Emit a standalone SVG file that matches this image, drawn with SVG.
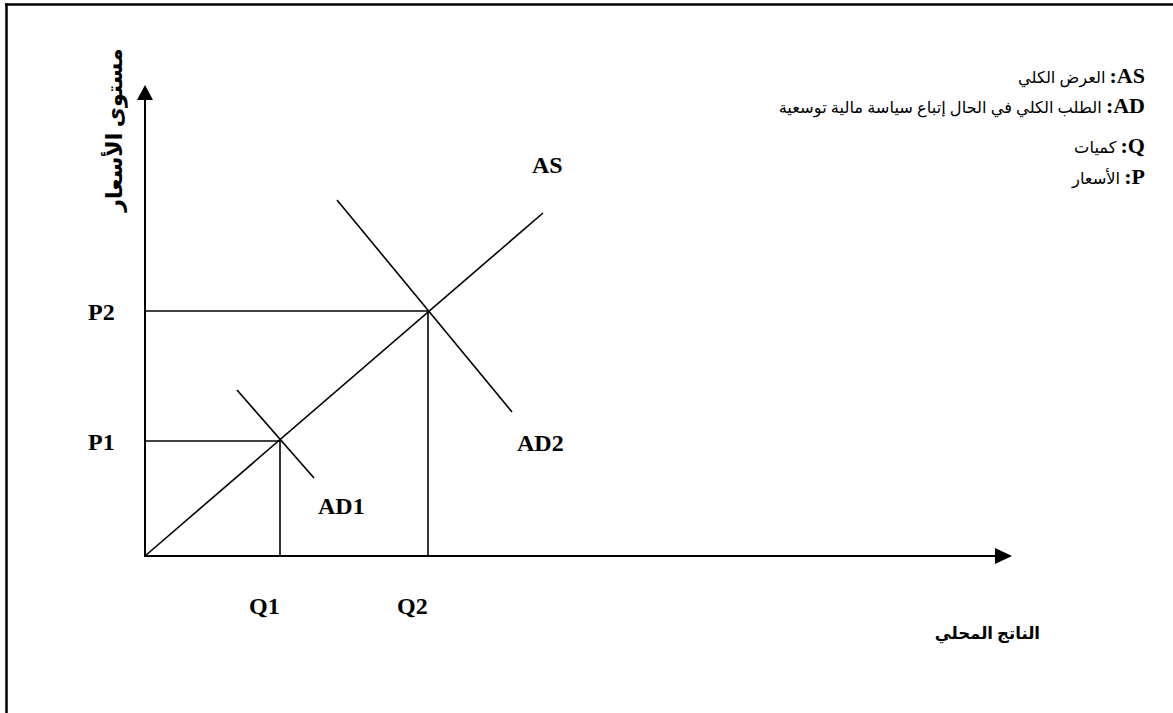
<svg xmlns="http://www.w3.org/2000/svg" width="1173" height="713" viewBox="0 0 1173 713">
<style>
.ln{stroke:#000;stroke-width:1.6;fill:none}
.ax{stroke:#000;stroke-width:2;fill:none}
.lb{font-family:"Liberation Serif","Times New Roman",serif;font-weight:bold;font-size:24px;fill:#000}
.lg{font-family:"Liberation Serif","Times New Roman",serif;font-weight:bold;font-size:22px;fill:#000}
.ar{font-family:"Liberation Serif","DejaVu Sans",serif;font-weight:normal;font-size:16.3px;fill:#000}
.arb{font-family:"Liberation Serif","DejaVu Sans",serif;font-weight:bold;fill:#000}
</style>
<rect width="1173" height="713" fill="#fff"/>
<g id="frame">
<line x1="5" y1="4.5" x2="1173" y2="4.5" stroke="#000" stroke-width="2.5"/>
<line x1="6.5" y1="3.5" x2="6.5" y2="713" stroke="#000" stroke-width="2.5"/>
</g>
<g id="connectors">
<line class="ax" x1="145" y1="557" x2="145" y2="98"/>
<polygon points="145,85 137,100 153,100" fill="#000"/>
<line class="ax" x1="144" y1="556" x2="998" y2="556"/>
<polygon points="1012,556 995,548 995,564" fill="#000"/>
<line class="ln" x1="145" y1="556" x2="543" y2="213"/>
<line class="ln" x1="237" y1="390" x2="314" y2="478"/>
<line class="ln" x1="337" y1="200" x2="512" y2="412"/>
<line class="ln" x1="145" y1="441" x2="280" y2="441"/>
<line class="ln" x1="280" y1="441" x2="280" y2="556"/>
<line class="ln" x1="145" y1="311" x2="428" y2="311"/>
<line class="ln" x1="428" y1="311" x2="428" y2="556"/>
</g>
<g id="axis-labels">
<text class="arb" font-size="22" transform="translate(122,130) rotate(-90)" text-anchor="middle">مستوى الأسعار</text>
<text class="arb" font-size="16.5" x="1040" y="639" text-anchor="end">الناتج المحلي</text>
</g>
<g id="tick-labels">
<text class="lb" x="88" y="320">P2</text>
<text class="lb" x="88" y="450">P1</text>
<text class="lb" x="249" y="614">Q1</text>
<text class="lb" x="397" y="614">Q2</text>
</g>
<g id="curve-labels">
<text class="lb" x="532" y="173">AS</text>
<text class="lb" x="318" y="514">AD1</text>
<text class="lb" x="517" y="451">AD2</text>
</g>
<g id="legend">
<text x="1145" y="83" text-anchor="end" direction="ltr"><tspan class="ar">العرض الكلي </tspan><tspan class="lg">:AS</tspan></text>
<text x="1145" y="113" text-anchor="end" direction="ltr"><tspan class="ar">الطلب الكلي في الحال إتباع سياسة مالية توسعية </tspan><tspan class="lg">:AD</tspan></text>
<text x="1145" y="153" text-anchor="end" direction="ltr"><tspan class="ar">كميات </tspan><tspan class="lg">:Q</tspan></text>
<text x="1145" y="184" text-anchor="end" direction="ltr"><tspan class="ar">الأسعار </tspan><tspan class="lg">:P</tspan></text>
</g>
</svg>
